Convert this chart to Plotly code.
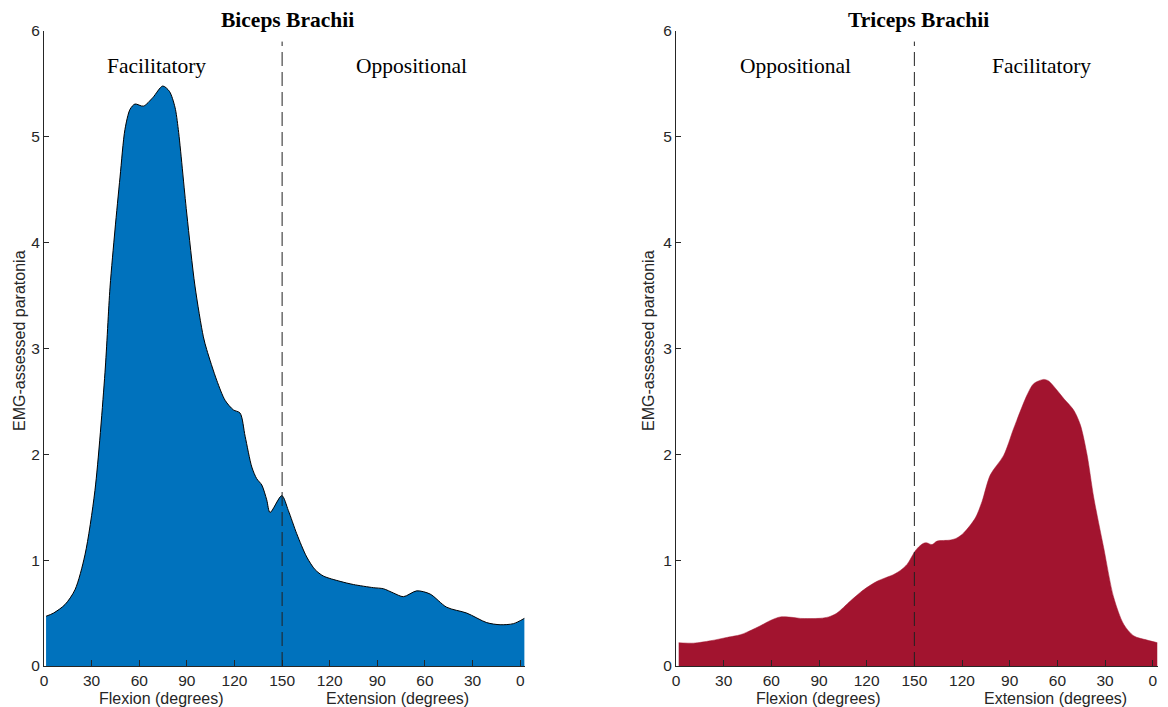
import plotly.graph_objects as go

# ---------------- data ----------------
# x positions: 0..150 = flexion (degrees), 150..303 = extension (150 -> 0)
biceps_x = [1.3, 6, 13.2, 19.5, 25.8, 32.1, 38.4, 41.6, 44.7, 47.9, 51.0, 54.2, 57.3,
            62.6, 68.5, 74.8, 79.0, 82.5, 84.6, 89.9, 95.1, 100.4, 102.5, 108.8, 114.1,
            119.3, 123.5, 126.7, 130.9, 134.0, 137.2, 140.3, 142.4, 149.8, 153.9,
            159.2, 165.5, 170.8, 176.0, 186.5, 194.9, 207.5, 213.8, 220.1, 226.4,
            234.8, 243.2, 253.7, 266.3, 278.9, 287.3, 295.7, 302.6]
biceps_y = [0.47, 0.50, 0.58, 0.72, 1.05, 1.66, 2.77, 3.58, 4.12, 4.62, 5.07, 5.26, 5.31,
            5.29, 5.37, 5.48, 5.43, 5.28, 5.07, 4.28, 3.59, 3.11, 2.99, 2.70, 2.51,
            2.42, 2.39, 2.17, 1.88, 1.77, 1.71, 1.57, 1.45, 1.61, 1.47,
            1.25, 1.03, 0.91, 0.85, 0.80, 0.77, 0.74, 0.73, 0.69, 0.655,
            0.71, 0.68, 0.555, 0.50, 0.41, 0.39, 0.40, 0.45]

triceps_x = [1.7, 11.1, 21.6, 32.1, 40.5, 44.7, 53.1, 59.4, 65.7, 74.1, 78.2, 90.8,
             96.1, 101.3, 109.7, 118.1, 126.5, 137.0, 141.2, 145.4, 150.2, 152.7,
             155.9, 158.0, 161.1, 164.3, 172.6, 176.8, 181.0, 188.4, 192.6, 197.8,
             206.2, 212.5, 220.9, 225.1, 231.4, 234.5, 239.8, 244.0, 250.3, 254.5,
             258.7, 262.9, 269.1, 275.4, 281.7, 288.0, 296.4, 303.0]
triceps_y = [0.22, 0.216, 0.238, 0.27, 0.295, 0.32, 0.38, 0.43, 0.464, 0.458, 0.45, 0.451,
             0.464, 0.50, 0.614, 0.72, 0.80, 0.865, 0.903, 0.96, 1.08, 1.125,
             1.16, 1.163, 1.147, 1.18, 1.19, 1.21, 1.257, 1.40, 1.555, 1.806,
             1.99, 2.245, 2.56, 2.668, 2.708, 2.693, 2.605, 2.527, 2.417, 2.276,
             1.994, 1.59, 1.12, 0.65, 0.395, 0.285, 0.245, 0.22]

tick_vals = [0, 30, 60, 90, 120, 150, 180, 210, 240, 270, 300]
tick_text = ["0", "30", "60", "90", "120", "150", "120", "90", "60", "30", "0"]
y_ticks = [0, 1, 2, 3, 4, 5, 6]

titles = ["Biceps Brachii", "Triceps Brachii"]
left_regions = [("Facilitatory", 71), ("Oppositional", 231.5)]
right_regions = [("Oppositional", 75), ("Facilitatory", 230)]

BLUE = "#0072BD"
RED = "#A2142F"
AX = "#262626"
W, H = 1168, 707
TOP, BOT = 31, 666          # pixel rows of y=6 and y=0
PH = BOT - TOP


def py(pix):
    """pixel row -> paper y (paper spans the plot area inside margins)"""
    return (BOT - pix) / PH


fig = go.Figure()
fig.add_trace(go.Scatter(x=biceps_x, y=biceps_y, mode="lines", fill="tozeroy",
                         fillcolor=BLUE, line=dict(color="black", width=1, shape="spline", smoothing=0.8),
                         xaxis="x", yaxis="y", showlegend=False, hoverinfo="skip"))
fig.add_trace(go.Scatter(x=triceps_x, y=triceps_y, mode="lines", fill="tozeroy",
                         fillcolor=RED, line=dict(color=RED, width=0.5, shape="spline", smoothing=0.8),
                         xaxis="x2", yaxis="y2", showlegend=False, hoverinfo="skip"))

tickfont = dict(family="Liberation Sans, Arial, sans-serif", size=15.5, color=AX)
xcommon = dict(range=[0, 303], tickvals=tick_vals, ticktext=tick_text, ticks="inside",
               ticklen=6, tickcolor=AX, tickwidth=1, showline=True, linecolor=AX, linewidth=1,
               showgrid=False, zeroline=False, tickfont=tickfont, fixedrange=True,
               automargin=False)
ycommon = dict(range=[0, 6], tickvals=y_ticks, ticks="inside", ticklen=5, tickcolor=AX,
               tickwidth=1, showline=True, linecolor=AX, linewidth=1, showgrid=False,
               zeroline=False, tickfont=tickfont, fixedrange=True, automargin=False)

fig.update_layout(
    width=W, height=H,
    margin=dict(l=0, r=0, t=TOP, b=H - BOT, autoexpand=False),
    paper_bgcolor="white", plot_bgcolor="white",
    xaxis=dict(domain=[44 / W, 525 / W], anchor="y", **xcommon),
    yaxis=dict(domain=[0, 1], anchor="x", **ycommon),
    xaxis2=dict(domain=[676 / W, 1157.5 / W], anchor="y2", **xcommon),
    yaxis2=dict(domain=[0, 1], anchor="x2", **ycommon),
)

# dashed separators at 150
for xr, yr in [("x", "y"), ("x2", "y2")]:
    fig.add_shape(type="line", xref=xr, yref=yr, x0=150, x1=150, y0=0, y1=5.9,
                  line=dict(color="#222222", width=1, dash="14px,6px"), layer="above")

serif = "Liberation Serif, Times New Roman, serif"
sans = "Liberation Sans, Arial, sans-serif"
ann = []
for t, xc in zip(titles, [287, 918]):
    ann.append(dict(text="<b>%s</b>" % t, xref="paper", yref="paper", x=xc / W, y=py(20),
                    xanchor="center", yanchor="middle", showarrow=False,
                    font=dict(family=serif, size=21.5, color="black")))
for (txt, xv) in left_regions:
    ann.append(dict(text=txt, xref="x", yref="y", x=xv, y=5.67, xanchor="center",
                    yanchor="middle", showarrow=False, font=dict(family=serif, size=21.5, color="black")))
for (txt, xv) in right_regions:
    ann.append(dict(text=txt, xref="x2", yref="y2", x=xv, y=5.67, xanchor="center",
                    yanchor="middle", showarrow=False, font=dict(family=serif, size=21.5, color="black")))
for xc in [19, 648]:
    ann.append(dict(text="EMG-assessed paratonia", xref="paper", yref="paper", x=xc / W,
                    y=py(341), textangle=-90, xanchor="center", yanchor="middle",
                    showarrow=False, font=dict(family=sans, size=16, color=AX)))
for txt, xc in [("Flexion (degrees)", 161), ("Extension (degrees)", 397),
                ("Flexion (degrees)", 818), ("Extension (degrees)", 1055)]:
    ann.append(dict(text=txt, xref="paper", yref="paper", x=xc / W, y=py(698),
                    xanchor="center", yanchor="middle", showarrow=False,
                    font=dict(family=sans, size=16, color=AX)))
fig.update_layout(annotations=ann)

fig.write_html("out.html")
